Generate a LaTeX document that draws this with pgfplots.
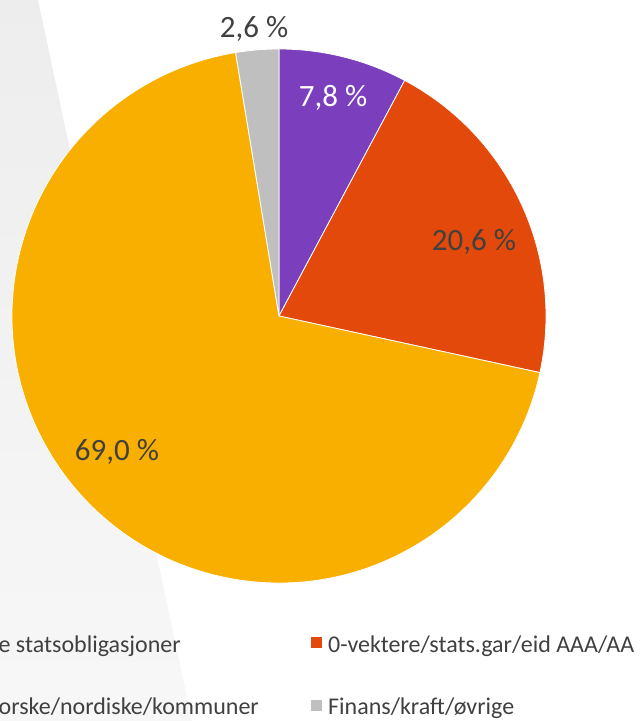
\documentclass[border=0pt]{standalone}
\usepackage{pgfplots}
\pgfplotsset{compat=1.18}
\usepackage{fontspec}
\setmainfont{Carlito}

\definecolor{pPurple}{HTML}{7B3FBE}
\definecolor{pRed}{HTML}{E2490A}
\definecolor{pYellow}{HTML}{F9AF00}
\definecolor{pGrey}{HTML}{BFBFBF}
\definecolor{txt}{HTML}{404040}

\begin{document}
\begin{tikzpicture}
\path[use as bounding box] (0,0) rectangle (641bp,721bp);
\begin{scope}
\clip (0,0) rectangle (641bp,721bp);
\begin{axis}[
    at={(0,0)}, anchor=south west,
    width=641bp, height=721bp, scale only axis,
    xmin=0, xmax=641, ymin=0, ymax=721,
    hide axis, clip=false,
]
% light band behind the chart
\shade[top color=black!7, bottom color=black!3]
    (axis cs:0,721) -- (axis cs:38,721) -- (axis cs:192,0) -- (axis cs:0,0) -- cycle;

% slices, clockwise from 12 o'clock
\pgfplotsextra{
  \def\cx{279}\def\cy{405}\def\r{267}
  \gdef\start{90}
  \foreach \v/\c in {7.8/pPurple, 20.6/pRed, 69.0/pYellow, 2.6/pGrey} {
    \pgfmathsetmacro\e{\start - 3.6*\v}
    \fill[\c, draw=white, line width=0.8bp] (axis cs:\cx,\cy) -- ++(\start:\r bp)
        arc[start angle=\start, end angle=\e, radius=\r bp] -- cycle;
    \global\let\start\e
  }
}

% data labels
\node[txt, font=\fontsize{31bp}{36bp}\selectfont] at (axis cs:254,692) {2,6 \%};
\node[white, font=\fontsize{31bp}{36bp}\selectfont] at (axis cs:333,623) {7,8 \%};
\node[txt, font=\fontsize{31bp}{36bp}\selectfont] at (axis cs:474,479) {20,6 \%};
\node[txt, font=\fontsize{31bp}{36bp}\selectfont] at (axis cs:117,269) {69,0 \%};

% legend (left column runs off the picture)
\node[txt, anchor=base east, inner sep=0pt, font=\fontsize{24bp}{28bp}\selectfont]
    at (axis cs:181,68) {Norske statsobligasjoner};
\node[txt, anchor=base east, inner sep=0pt, font=\fontsize{24bp}{28bp}\selectfont]
    at (axis cs:259,7) {Norske/nordiske/kommuner};
\fill[pRed] (axis cs:311,73) rectangle (axis cs:322,84);
\node[txt, anchor=base west, inner sep=0pt, font=\fontsize{24bp}{28bp}\selectfont]
    at (axis cs:328,68) {0-vektere/stats.gar/eid AAA/AA};
\fill[pGrey] (axis cs:311,10) rectangle (axis cs:322,21);
\node[txt, anchor=base west, inner sep=0pt, font=\fontsize{24bp}{28bp}\selectfont]
    at (axis cs:328,7) {Finans/kraft/øvrige};
\end{axis}
\end{scope}
\end{tikzpicture}
\end{document}
